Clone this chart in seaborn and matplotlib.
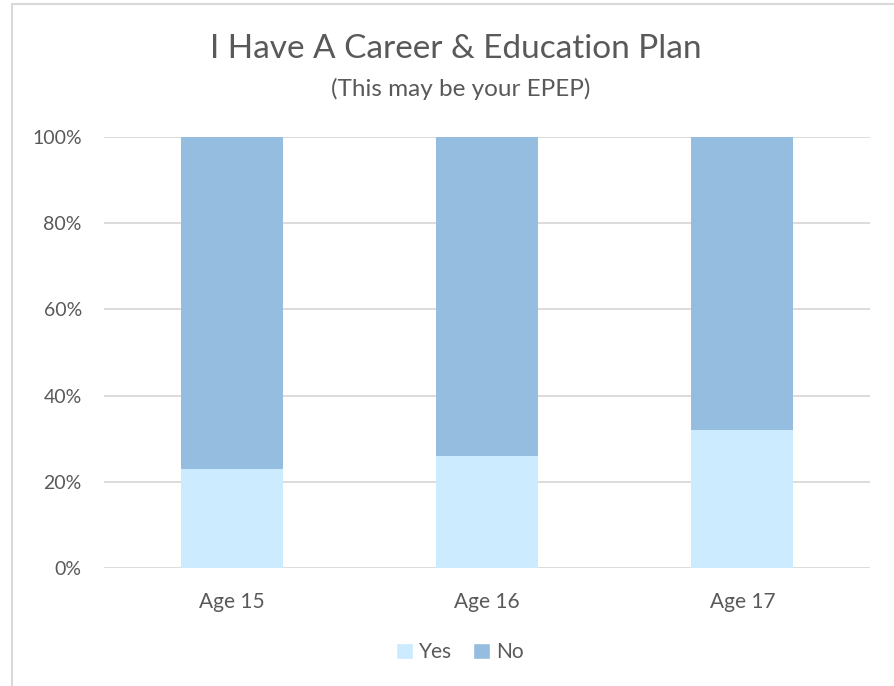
import matplotlib
matplotlib.use('Agg')
import pandas as pd
import numpy as np
import matplotlib.pyplot as plt
import seaborn as sns
from matplotlib.patches import Patch, Rectangle
from matplotlib.ticker import PercentFormatter

# data
ages = ['Age 15', 'Age 16', 'Age 17']
yes_pct = [23, 26, 32]
no_pct = [77, 74, 68]

yes_color = '#CCEBFF'
no_color = '#95BDE0'
text_color = '#595959'
grid_color = '#D9D9D9'

sns.set_style('white')
plt.rcParams['font.family'] = ['Lato', 'DejaVu Sans']

df = pd.DataFrame({'age': ages, 'yes': yes_pct, 'no': no_pct})
df['total'] = df['yes'] + df['no']

fig = plt.figure(figsize=(8.94, 6.86), dpi=100)
ax = fig.add_axes([104/894, 1 - 568/686, (870 - 104)/894, (568 - 137)/686])

# stacked: full bar in "No" colour, then "Yes" drawn over the bottom part
sns.barplot(data=df, x='age', y='total', color=no_color, width=0.4,
            saturation=1, linewidth=0, ax=ax, zorder=3)
sns.barplot(data=df, x='age', y='yes', color=yes_color, width=0.4,
            saturation=1, linewidth=0, ax=ax, zorder=4)

ax.set_ylim(0, 100)
ax.set_xlim(-0.5, 2.5)
ax.set_yticks(np.arange(0, 101, 20))
ax.yaxis.set_major_formatter(PercentFormatter(decimals=0))
ax.yaxis.grid(True, color=grid_color, linewidth=1.3, zorder=0)
ax.set_axisbelow(True)
sns.despine(ax=ax, left=True, bottom=True)
ax.set_xlabel('')
ax.set_ylabel('')
ax.tick_params(axis='y', length=0, pad=16, labelsize=14, labelcolor=text_color)
ax.tick_params(axis='x', length=0, pad=17, labelsize=15, labelcolor=text_color)

fig.text(456/894, 1 - 49/686, 'I Have A Career & Education Plan', ha='center',
         va='center', fontsize=24, color=text_color)
fig.text(461/894, 1 - 89/686, '(This may be your EPEP)', ha='center',
         va='center', fontsize=17.5, color=text_color)

handles = [Patch(facecolor=yes_color, label='Yes'), Patch(facecolor=no_color, label='No')]
fig.legend(handles=handles, loc='center', bbox_to_anchor=(460/894, 1 - 652/686),
           ncol=2, frameon=False, fontsize=15, labelcolor=text_color,
           handlelength=0.8, handleheight=0.8, handletextpad=0.3, columnspacing=1.0)

# chart area border (only top and left visible in the crop)
fig.patches.append(Rectangle((12/894, -0.1), 1.2, 1 - 4/686 + 0.1,
                             transform=fig.transFigure, fill=False,
                             edgecolor=grid_color, linewidth=1.5))

fig.savefig('out.png', dpi=100)
